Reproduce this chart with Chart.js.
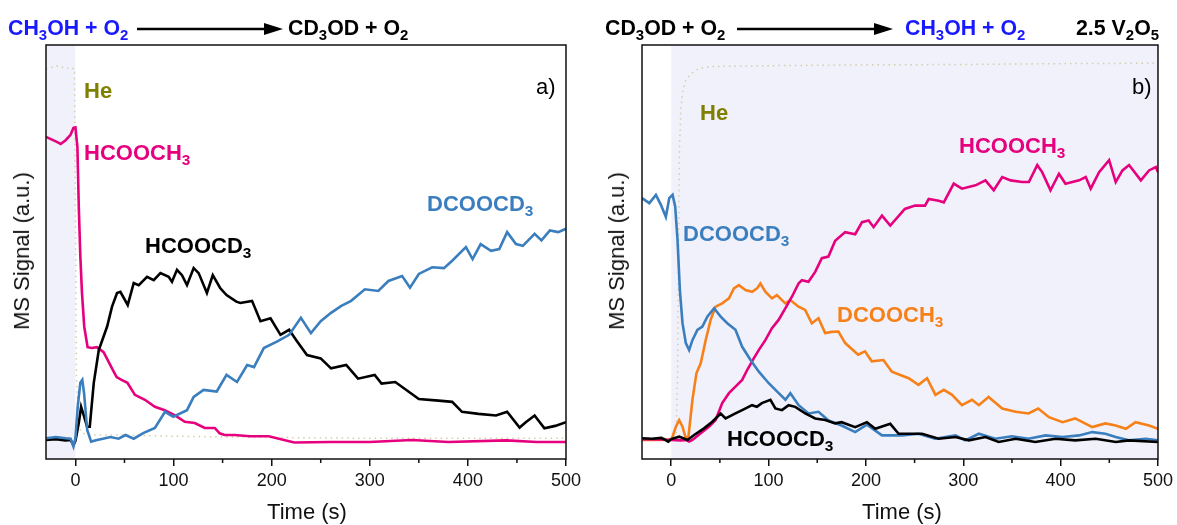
<!DOCTYPE html>
<html>
<head>
<meta charset="utf-8">
<script src="https://cdn.jsdelivr.net/npm/chart.js@4.4.0/dist/chart.umd.min.js"></script>
<style>
  body { margin: 0; background: #fff; }
  #wrap { position: relative; width: 1177px; height: 525px; overflow: hidden; font-family: "Liberation Sans", Arial, sans-serif; }
  canvas { position: absolute; top: 0; }
  .lbl { position: absolute; font-size: 22px; line-height: 22px; font-weight: bold; white-space: nowrap; transform-origin: left top; }
  .lbl sub { font-size: 0.7em; vertical-align: -0.32em; line-height: 0; }
  .hdr { transform: scaleX(0.97); }
  .plain { font-weight: normal; }
  .axt { position: absolute; font-size: 22px; line-height: 22px; white-space: nowrap; color: #111; }
  .rot { transform: translate(-50%, -50%) rotate(-90deg); }
  svg { position: absolute; left: 0; top: 0; }
</style>
</head>
<body>
<div id="wrap">
  <canvas id="panel-a" width="590" height="525" style="left:0"></canvas>
  <canvas id="panel-b" width="587" height="525" style="left:590px"></canvas>

  <svg width="1177" height="60">
    <line x1="137" y1="29" x2="266" y2="29" stroke="#000" stroke-width="2.5"/>
    <polygon points="264,23 283,29 264,35" fill="#000"/>
    <line x1="737" y1="29" x2="876" y2="29" stroke="#000" stroke-width="2.5"/>
    <polygon points="874,23 893,29 874,35" fill="#000"/>
  </svg>

  <!-- headers -->
  <div class="lbl hdr" style="left:8px;top:17px;color:rgb(25,25,255)">CH<sub>3</sub>OH + O<sub>2</sub></div>
  <div class="lbl hdr" style="left:288px;top:17px;color:#000">CD<sub>3</sub>OD + O<sub>2</sub></div>
  <div class="lbl hdr" style="left:605px;top:17px;color:#000">CD<sub>3</sub>OD + O<sub>2</sub></div>
  <div class="lbl hdr" style="left:905px;top:17px;color:rgb(25,25,255)">CH<sub>3</sub>OH + O<sub>2</sub></div>
  <div class="lbl hdr" style="left:1076px;top:17px;color:#000">2.5 V<sub>2</sub>O<sub>5</sub></div>

  <!-- panel a labels -->
  <div class="lbl" style="left:84px;top:80px;color:rgb(128,128,0)">He</div>
  <div class="lbl" style="left:84px;top:142px;color:rgb(230,0,126)">HCOOCH<sub>3</sub></div>
  <div class="lbl" style="left:145px;top:235px;color:#000">HCOOCD<sub>3</sub></div>
  <div class="lbl" style="left:427px;top:193px;color:rgb(58,126,190)">DCOOCD<sub>3</sub></div>
  <div class="lbl plain" style="left:536px;top:76px;color:#000">a)</div>

  <!-- panel b labels -->
  <div class="lbl" style="left:700px;top:102px;color:rgb(128,128,0)">He</div>
  <div class="lbl" style="left:683px;top:223px;color:rgb(58,126,190)">DCOOCD<sub>3</sub></div>
  <div class="lbl" style="left:837px;top:304px;color:rgb(247,128,24)">DCOOCH<sub>3</sub></div>
  <div class="lbl" style="left:959px;top:135px;color:rgb(230,0,126)">HCOOCH<sub>3</sub></div>
  <div class="lbl" style="left:727px;top:428px;color:#000">HCOOCD<sub>3</sub></div>
  <div class="lbl plain" style="left:1132px;top:76px;color:#000">b)</div>

  <!-- axis titles -->
  <div class="axt rot" style="left:22px;top:251px">MS Signal (a.u.)</div>
  <div class="axt rot" style="left:617px;top:251px">MS Signal (a.u.)</div>
  <div class="axt" style="left:307px;top:501px;transform:translateX(-50%)">Time (s)</div>
  <div class="axt" style="left:902px;top:501px;transform:translateX(-50%)">Time (s)</div>
</div>

<script>
// tick labels on the time axis
const timeTicks = [0, 100, 200, 300, 400, 500];
const minorTicks = [50, 150, 250, 350, 450];

// ---- panel a: CH3OH + O2 -> CD3OD + O2 ----
const aTimeHe = [-30, -25, -20, -15, -10, -5, -1, 0, 1, 3, 6, 10, 20, 50, 100, 200, 300, 400, 500];
const aHe = [94.2, 94.5, 95, 94.8, 94.3, 94.5, 94.2, 60, 20, 8, 6.5, 6, 5.8, 5.8, 5.5, 5.2, 5, 5, 5];

const aTimeHCOOCH3 = [-30, -19, -15, -10, -5, -2, 0, 2, 3.4, 5, 6.7, 9, 12.4, 16.8, 21.9, 28.7, 37, 42, 47, 53, 60.6, 70.8, 81, 91, 101, 111.5, 121.6, 131.8, 142, 147, 152, 162, 178, 197, 223, 260, 300, 343, 380, 439, 470, 500];
const aHCOOCH3 = [77.8, 76.6, 76.1, 77, 78.3, 80, 80.1, 75.4, 61, 48.9, 40, 31.9, 27, 26.8, 27, 25.8, 22, 19.8, 19.1, 18.4, 15.5, 14.3, 12.6, 11.8, 10.6, 9, 8.7, 7.5, 7.5, 6.2, 5.8, 5.8, 5.5, 5.5, 4, 4.1, 4.1, 4.6, 4.1, 4.5, 4.1, 4.1];

const aTimeHCOOCD3 = [-30, -20, -10, -5, -2, 0, 3.4, 5.8, 7.8, 11.9, 14.6, 18.7, 23.8, 32.3, 37.3, 42.4, 45.8, 53.3, 59.4, 64.5, 73, 79.8, 86.6, 95, 98.4, 103.5, 108.6, 113.7, 120.5, 125.6, 134, 140, 147.5, 154, 164, 168, 180, 188.6, 198.8, 209, 217.8, 226, 236, 250, 260.5, 276, 288, 305, 312, 326, 350, 370, 384, 394, 411, 428.7, 440, 452.7, 459, 468, 478, 489, 500];
const aHCOOCD3 = [4.6, 4.8, 4.5, 4.6, 3.4, 4.4, 8.7, 12.6, 11.1, 7.8, 7.8, 18.4, 26.3, 32, 36.8, 40.1, 40.4, 37.2, 42.5, 42, 44, 43.2, 44.9, 44, 42.8, 45.7, 44.4, 42, 46.1, 44.9, 40.1, 44.4, 41.3, 39.6, 38, 37.7, 38.2, 33.3, 34, 30, 31.2, 28.4, 25.1, 24.3, 21.9, 22.7, 19.4, 20.3, 18.2, 18.6, 14.5, 14.1, 13.8, 11.4, 10.9, 10.5, 11.4, 7.6, 8.9, 10.5, 7.4, 8, 8.9];

const aTimeDCOOCD3 = [-30, -20, -10, -5, -2, 0, 2.3, 5, 7, 8.8, 12, 16, 22, 28, 35.6, 44, 51, 59.4, 69.6, 81, 91.3, 99.7, 113.7, 120.5, 130.6, 144, 154, 164.7, 175, 182, 192, 205.8, 217.8, 229.8, 240, 250, 260.5, 271, 281, 295, 308.7, 319, 333, 341, 350, 363.6, 375.6, 384, 398, 404.8, 413, 423.6, 432, 440, 449, 456, 468, 475, 483.6, 492, 500];
const aDCOOCD3 = [5, 5.3, 5, 4.9, 3, 5, 12.6, 18.4, 19.1, 15.9, 7, 4.2, 4.6, 4.9, 5.3, 4.9, 5.8, 4.9, 6.3, 7.5, 11.4, 10.2, 11.8, 15, 16.7, 16.3, 20.3, 18.6, 22.7, 22.2, 26.8, 28.4, 30, 34.1, 30.4, 33.3, 35.3, 37, 38.2, 41, 40.6, 43, 44.2, 41.4, 44.7, 46.3, 46.1, 47.9, 51.2, 48.3, 51.9, 50.3, 50.7, 54.8, 51.9, 51.5, 54.4, 52.8, 55.2, 54.8, 55.6];

// ---- panel b: CD3OD + O2 -> CH3OH + O2 ----
const bTimeHe = [-30, 0, 5, 6.5, 7.5, 8.5, 10, 12, 15, 20, 28, 40, 100, 200, 300, 400, 500];
const bHe = [5, 5, 5.2, 20, 50, 75, 85, 89, 91.5, 93, 94.3, 94.8, 95, 95.2, 95.3, 95.5, 95.6];

const bTimeDCOOCD3 = [-30, -22.5, -15.7, -10.6, -5.5, -2, 1.4, 4.1, 6.5, 8.9, 11.6, 15, 18.4, 21.8, 26.9, 32, 37.1, 44, 50.8, 57.6, 66, 72.9, 81.5, 90, 100.2, 110.4, 117.3, 122.4, 130.9, 141.1, 151.3, 161.6, 175, 189, 201, 216.5, 237, 254, 271, 292, 302, 316, 333, 350, 367, 384.5, 402, 419, 432.5, 446, 456.6, 470, 487.5, 500];
const bDCOOCD3 = [63, 61.8, 63.8, 61.4, 58.5, 63, 63.8, 61, 52.9, 40.8, 32.8, 28, 26.3, 28.7, 31.2, 32, 34.4, 36.4, 34.4, 32.8, 31.2, 27.1, 23.9, 21.1, 18.3, 15.9, 14.3, 15.9, 13, 11, 11.4, 9.3, 8.1, 6.5, 8.3, 5.7, 5.7, 6.1, 4.9, 5.7, 4.5, 6.1, 4.9, 5.5, 4.9, 5.7, 5.3, 5.7, 6.5, 6.1, 5.3, 4.5, 4.9, 4.5];

const bTimeHCOOCD3 = [-30, -20, -10, -3, 0, 8.2, 16.7, 23.5, 33.7, 42.2, 50.8, 55.9, 66, 72.9, 83, 88, 93.1, 101.9, 107, 113.8, 120.6, 127.4, 137.7, 147.9, 158.2, 168.4, 175, 189, 201, 209.6, 225, 233.6, 257.7, 274.7, 292, 305.7, 322.8, 336.4, 353.8, 374, 394.7, 415, 436, 456.7, 470, 500];
const bHCOOCD3 = [5, 4.9, 5.1, 4.2, 4.8, 5.4, 4.6, 5.8, 7.4, 9, 11, 9.8, 11, 11.8, 13, 12.6, 13.5, 14.3, 12.2, 11.8, 13, 12.6, 11, 9.8, 9.4, 8.6, 8.9, 7.7, 8.9, 7.3, 8.5, 6.1, 6.1, 4.9, 5.3, 4.5, 5.3, 4.1, 4.9, 4.1, 4.9, 4.5, 4.9, 4.1, 4.5, 4.1];

const bTimeDCOOCH3 = [-30, -10, 0, 1.4, 4.8, 8.2, 11.6, 15, 17.7, 21.8, 25.9, 30.3, 35.4, 40.5, 45.6, 52.4, 59.3, 64.4, 69.5, 76.3, 83.1, 88.2, 91.6, 96.7, 103.5, 108.6, 117.2, 122.3, 130.8, 137.6, 144.4, 151.3, 158.1, 164.9, 171.8, 178.7, 192, 199, 206, 218, 226.6, 243.9, 254, 262.8, 271.4, 280, 288.5, 298.6, 309, 316, 326, 340, 353.8, 367, 377, 388, 402, 415, 432.5, 446, 456.6, 467, 477, 490.8, 500];
const bDCOOCH3 = [4.6, 4.6, 4.7, 5.4, 7.8, 9.4, 7.8, 5, 5.4, 14.3, 20.7, 23.1, 28.7, 33.6, 36.8, 37.6, 38.8, 41.2, 42, 40.8, 40.4, 41.2, 42.4, 40.4, 38.8, 39.6, 37.6, 38.4, 36.8, 36, 32.8, 34, 30.4, 30.7, 30.8, 28, 25.2, 26, 23.6, 23.9, 21.1, 19.5, 17.9, 19.5, 15.5, 16.7, 15.5, 13, 14.3, 13, 15, 12.2, 11.4, 11, 12.2, 10.1, 8.9, 9.8, 7.7, 8.6, 8.1, 7.3, 8.9, 8.1, 7.3];

const bTimeHCOOCH3 = [-30, -10, 0, 10, 15, 18.4, 21.8, 30.3, 38.8, 45.6, 52.4, 59.3, 66, 72.9, 78, 84.8, 89.9, 96.7, 103.5, 110.3, 117.2, 124, 130.8, 134.2, 141, 147.9, 154.7, 161.5, 168.4, 178.7, 189, 196, 202.8, 207.9, 216.5, 225, 240, 250.5, 260.7, 264.5, 274.7, 280, 290.2, 298.6, 312.6, 322.8, 331.3, 340, 348.7, 360.5, 367.4, 376, 381, 389.6, 398.3, 405, 419, 425.8, 430.9, 439.5, 449.8, 456.6, 463.5, 470.3, 482.4, 490.8, 497.8, 500];
const bHCOOCH3 = [4.8, 4.7, 4.6, 4.5, 4.6, 4.2, 4.6, 6.2, 7.8, 9.4, 13.5, 15.9, 17.5, 19.1, 21.5, 24.3, 26.3, 28.7, 31.6, 33.6, 36.4, 39.2, 42.4, 43.2, 42.8, 45.2, 48.5, 48.9, 52.7, 54.8, 54.3, 57.2, 57.6, 56, 58.8, 56.4, 60.4, 61.2, 61.2, 62.8, 62.4, 62, 66.5, 65.3, 66.1, 67.3, 64.9, 68.1, 67.3, 66.9, 66.9, 71, 69.3, 64.9, 68.9, 66.5, 67.3, 68.1, 65.3, 69.3, 72.2, 66.9, 69.7, 71, 67.3, 69.7, 70.5, 69.3];

const FONT = '"Liberation Sans", Arial, sans-serif';
const PINK = 'rgb(230,0,126)';
const BLUE = 'rgb(58,126,190)';
const ORANGE = 'rgb(247,128,24)';
const BLACK = '#000';
const HE = 'rgb(212,205,170)';

function line(label, t, v, color, order) {
  return {
    label: label,
    data: t.map((x, i) => ({ x: x, y: v[i] })),
    borderColor: color,
    borderWidth: 2.6,
    pointRadius: 0,
    tension: 0,
    order: order
  };
}

function heLine(t, v) {
  const ds = line('He', t, v, HE, 10);
  ds.borderWidth = 1.5;
  ds.borderDash = [1.5, 4];
  return ds;
}

// shaded He window, frame box and the short minor ticks
const panelDecor = {
  id: 'panelDecor',
  beforeDatasetsDraw(chart, args, opts) {
    const { ctx, chartArea: a, scales: { x } } = chart;
    const x0 = Math.max(a.left, x.getPixelForValue(opts.shadeFrom));
    const x1 = Math.min(a.right, x.getPixelForValue(opts.shadeTo));
    ctx.save();
    ctx.fillStyle = 'rgb(241,241,252)';
    ctx.fillRect(x0, a.top, x1 - x0, a.bottom - a.top);
    ctx.restore();
  },
  afterDraw(chart) {
    const { ctx, chartArea: a, scales: { x } } = chart;
    ctx.save();
    ctx.strokeStyle = '#111';
    ctx.lineWidth = 1.5;
    ctx.strokeRect(a.left, a.top, a.right - a.left, a.bottom - a.top);
    ctx.beginPath();
    minorTicks.forEach(v => {
      const px = x.getPixelForValue(v);
      ctx.moveTo(px, a.bottom);
      ctx.lineTo(px, a.bottom + 4);
    });
    ctx.stroke();
    ctx.restore();
  }
};

function renderPanel(id, datasets, yWidth, rightPad, shadeFrom, shadeTo) {
  const ctx = document.getElementById(id).getContext('2d');
  return new Chart(ctx, {
    type: 'line',
    data: { datasets: datasets },
    options: {
      responsive: false,
      animation: false,
      devicePixelRatio: 1,
      layout: { padding: { left: 0, top: 45, right: rightPad, bottom: 0 } },
      plugins: {
        legend: { display: false },
        tooltip: { enabled: false },
        panelDecor: { shadeFrom: shadeFrom, shadeTo: shadeTo }
      },
      scales: {
        x: {
          type: 'linear',
          min: -30,
          max: 500,
          afterBuildTicks: s => { s.ticks = timeTicks.map(v => ({ value: v })); },
          afterFit: s => { s.height = 66; },
          ticks: { font: { family: FONT, size: 18 }, color: '#111', padding: 4, maxRotation: 0, autoSkip: false },
          grid: { drawOnChartArea: false, drawTicks: true, tickLength: 7, color: '#111', lineWidth: 1.5 },
          border: { display: false }
        },
        y: {
          min: 0,
          max: 100,
          afterFit: s => { s.width = yWidth; },
          ticks: { display: false },
          grid: { display: false },
          border: { display: false }
        }
      }
    },
    plugins: [panelDecor]
  });
}

renderPanel('panel-a', [
  line('DCOOCD3', aTimeDCOOCD3, aDCOOCD3, BLUE, 1),
  line('HCOOCD3', aTimeHCOOCD3, aHCOOCD3, BLACK, 2),
  line('HCOOCH3', aTimeHCOOCH3, aHCOOCH3, PINK, 3),
  heLine(aTimeHe, aHe)
], 46, 24, -30, 0);

renderPanel('panel-b', [
  line('HCOOCD3', bTimeHCOOCD3, bHCOOCD3, BLACK, 1),
  line('DCOOCD3', bTimeDCOOCD3, bDCOOCD3, BLUE, 2),
  line('HCOOCH3', bTimeHCOOCH3, bHCOOCH3, PINK, 3),
  line('DCOOCH3', bTimeDCOOCH3, bDCOOCH3, ORANGE, 4),
  heLine(bTimeHe, bHe)
], 52, 16, 0, 500);
</script>
</body>
</html>
